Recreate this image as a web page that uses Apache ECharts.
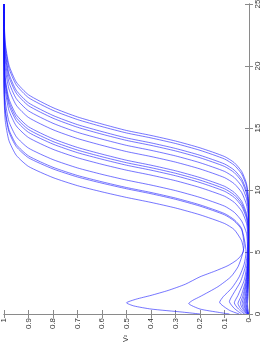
<!DOCTYPE html>
<html>
<head>
<meta charset="utf-8">
<script src="https://cdn.jsdelivr.net/npm/echarts@6/dist/echarts.min.js"></script>
<style>html,body{margin:0;padding:0;background:#fff}#c{width:266px;height:342px}</style>
</head>
<body>
<div id="c"></div>
<script>
// V^2 levels at which the rising part of every curve is read
const v2Levels = [0.01, 0.03, 0.06, 0.1, 0.2, 0.3, 0.4, 0.5, 0.6, 0.7, 0.8, 0.9, 0.95, 0.98, 0.995, 1];
// tau at which each curve reaches the V^2 levels above
const rise1  = [5.1, 5.9, 6.8, 7.3, 8.0, 8.55, 9.0, 9.4, 9.85, 10.35, 11.0, 11.9, 12.8, 14.0, 15.6, 17.9];
const rise2  = [5.8, 6.8, 7.5, 8.0, 8.7, 9.25, 9.7, 10.1, 10.55, 11.05, 11.7, 12.6, 13.5, 14.7, 16.3, 18.6];
const rise3  = [5.9, 6.9, 7.6, 8.1, 8.8, 9.35, 9.8, 10.2, 10.66, 11.17, 11.83, 12.75, 13.67, 14.89, 16.52, 18.87];
const rise4  = [6.5, 7.5, 8.2, 8.7, 9.4, 9.95, 10.4, 10.8, 11.26, 11.78, 12.45, 13.38, 14.3, 15.54, 17.19, 19.56];
const rise5  = [7.3, 8.3, 9.0, 9.5, 10.2, 10.75, 11.2, 11.6, 12.07, 12.6, 13.28, 14.23, 15.17, 16.43, 18.11, 20.53];
const rise6  = [7.7, 8.7, 9.4, 9.9, 10.6, 11.15, 11.6, 12.0, 12.48, 13.01, 13.7, 14.65, 15.6, 16.88, 18.57, 21.01];
const rise7  = [7.9, 8.9, 9.6, 10.1, 10.8, 11.35, 11.8, 12.2, 12.68, 13.22, 13.91, 14.88, 15.84, 17.12, 18.83, 21.3];
const rise8  = [8.1, 9.1, 9.8, 10.3, 11.0, 11.55, 12.0, 12.4, 12.89, 13.43, 14.13, 15.1, 16.07, 17.37, 19.1, 21.58];
const rise9  = [8.8, 9.8, 10.5, 11.0, 11.7, 12.25, 12.7, 13.1, 13.6, 14.15, 14.86, 15.85, 16.84, 18.16, 19.92, 22.45];
const rise10 = [9.3, 10.3, 11.0, 11.5, 12.2, 12.75, 13.2, 13.6, 14.1, 14.65, 15.38, 16.38, 17.37, 18.71, 20.48, 23.04];
const rise11 = [9.7, 10.7, 11.4, 11.9, 12.6, 13.15, 13.6, 14.0, 14.5, 15.06, 15.79, 16.8, 17.81, 19.15, 20.94, 23.52];
const rise12 = [9.9, 10.9, 11.6, 12.1, 12.8, 13.35, 13.8, 14.2, 14.71, 15.27, 16.01, 17.03, 18.04, 19.4, 21.21, 23.81];
const rise13 = [10.3, 11.3, 12.0, 12.5, 13.2, 13.75, 14.2, 14.6, 15.11, 15.68, 16.42, 17.45, 18.48, 19.84, 21.67, 24.29];
const rise14 = [10.5, 11.5, 12.2, 12.7, 13.4, 13.95, 14.4, 14.8, 15.32, 15.89, 16.64, 17.68, 18.71, 20.09, 21.93, 24.58];

// early bumps: [V^2, tau] pairs
const early1  = [[0.2,0],[0.27,0.15],[0.4,0.4],[0.47,0.65],[0.5,0.9],[0.46,1.2],[0.4,1.5],[0.33,1.9],[0.26,2.4],[0.2,3.0],[0.14,3.45],[0.086,3.9],[0.05,4.35],[0.033,4.7],[0.022,5.1]];
const early2  = [[0.08,0],[0.12,0.12],[0.2,0.4],[0.246,0.85],[0.23,1.1],[0.2,1.4],[0.127,2.2],[0.074,3.0],[0.045,3.8],[0.03,4.6],[0.02,5.5]];
const early3  = [[0.04,0],[0.08,0.3],[0.12,0.95],[0.105,1.4],[0.07,2.1],[0.04,3.0],[0.02,4.0],[0.012,5.0]];
const early4  = [[0.03,0],[0.06,0.45],[0.08,1.0],[0.065,1.6],[0.035,2.6],[0.015,3.8],[0.006,5.2]];
const early5  = [[0.02,0],[0.045,0.45],[0.06,0.9],[0.045,1.5],[0.02,2.7],[0.007,4.2],[0.004,6.0]];
const early6  = [[0.015,0],[0.035,0.45],[0.045,0.85],[0.033,1.4],[0.015,2.6],[0.005,4.2],[0.003,6.5]];
const early7  = [[0.01,0],[0.027,0.45],[0.035,0.85],[0.026,1.4],[0.012,2.6],[0.004,4.2],[0.003,6.8]];
const early8  = [[0.008,0],[0.022,0.45],[0.028,0.85],[0.021,1.4],[0.01,2.6],[0.004,4.2],[0.003,7.0]];
const early9  = [[0.006,0],[0.017,0.45],[0.022,0.85],[0.016,1.4],[0.008,2.6],[0.003,4.5],[0.002,7.5]];
const early10 = [[0.005,0],[0.014,0.45],[0.018,0.85],[0.013,1.4],[0.006,2.6],[0.003,4.5],[0.002,8.0]];
const early11 = [[0.004,0],[0.011,0.45],[0.014,0.85],[0.01,1.4],[0.005,2.6],[0.002,4.5],[0.002,8.5]];
const early12 = [[0.003,0],[0.009,0.45],[0.011,0.85],[0.008,1.4],[0.004,2.6],[0.002,4.5],[0.002,8.7]];
const early13 = [[0.002,0],[0.006,0.45],[0.008,0.85],[0.006,1.4],[0.003,2.6],[0.002,4.5],[0.002,9.0]];
const early14 = [[0.002,0],[0.005,0.45],[0.006,0.85],[0.004,1.4],[0.002,2.6],[0.001,4.5],[0.002,9.2]];

const rises = [rise1, rise2, rise3, rise4, rise5, rise6, rise7, rise8, rise9, rise10, rise11, rise12, rise13, rise14];
const earlies = [early1, early2, early3, early4, early5, early6, early7, early8, early9, early10, early11, early12, early13, early14];

const xTicks = [0, 0.1, 0.2, 0.3, 0.4, 0.5, 0.6, 0.7, 0.8, 0.9, 1];
const yTicks = [0, 5, 10, 15, 20, 25];

function buildCurve(early, rise) {
  const last = early[early.length - 1];
  const pts = early.slice();
  v2Levels.forEach((v, i) => {
    if (rise[i] > last[1] && v > last[0]) pts.push([v, Math.min(rise[i], 25)]);
  });
  if (pts[pts.length - 1][1] < 25) pts.push([1, 25]);
  return pts;
}

const series = rises.map((r, i) => ({
  type: 'line',
  data: buildCurve(earlies[i], r),
  showSymbol: false,
  smooth: 0.2,
  lineStyle: { color: 'rgba(20,20,255,0.65)', width: 0.9 },
  xAxisIndex: 0,
  yAxisIndex: 0,
  silent: true,
  animation: false
}));

const axisColor = '#8a8a8a';
const labelStyle = { color: '#333', fontSize: 8, fontFamily: 'Liberation Sans, Arial, sans-serif' };

const chart = echarts.init(document.getElementById('c'), null, { renderer: 'canvas' });
chart.setOption({
  animation: false,
  backgroundColor: '#fff',
  grid: { left: 4, right: 17, top: 4, bottom: 28, containLabel: false, outerBoundsMode: 'none' },
  xAxis: [
    {
      type: 'value', min: 0, max: 1, interval: 0.1, inverse: true, position: 'bottom',
      name: 'V\u00B2', nameLocation: 'middle', nameGap: 20, nameRotate: 90,
      nameTextStyle: { color: '#333', fontSize: 7, fontFamily: 'Liberation Sans, Arial, sans-serif' },
      axisLine: { show: true, lineStyle: { color: axisColor, width: 1 } },
      axisTick: { show: true, inside: true, length: 4, lineStyle: { color: axisColor } },
      axisLabel: Object.assign({ rotate: 90, margin: 4,
        formatter: v => (xTicks.indexOf(Math.round(v * 10) / 10) >= 0 ? String(Math.round(v * 10) / 10) : '') }, labelStyle),
      splitLine: { show: false }
    },
    {
      type: 'value', min: 0, max: 1, interval: 0.1, inverse: true, position: 'top',
      axisLine: { show: true, lineStyle: { color: axisColor, width: 1 } },
      axisTick: { show: true, inside: true, length: 4, lineStyle: { color: axisColor } },
      axisLabel: { show: false }, splitLine: { show: false }
    }
  ],
  yAxis: [
    {
      type: 'value', min: 0, max: 25, interval: 5, position: 'right',
      name: '\u03C4', nameLocation: 'middle', nameGap: 13, nameRotate: 90,
      nameTextStyle: { color: '#333', fontSize: 7, fontFamily: 'Liberation Sans, Arial, sans-serif' },
      axisLine: { show: true, lineStyle: { color: axisColor, width: 1 } },
      axisTick: { show: true, inside: true, length: 4, lineStyle: { color: axisColor } },
      axisLabel: Object.assign({ rotate: 90, margin: 9, align: 'center', verticalAlign: 'middle',
        formatter: v => (yTicks.indexOf(v) >= 0 ? String(v) : '') }, labelStyle),
      splitLine: { show: false }
    },
    {
      type: 'value', min: 0, max: 25, interval: 5, position: 'left',
      axisLine: { show: true, lineStyle: { color: axisColor, width: 1 } },
      axisTick: { show: true, inside: true, length: 4, lineStyle: { color: axisColor } },
      axisLabel: { show: false }, splitLine: { show: false }
    }
  ],
  series: series
});
</script>
</body>
</html>
